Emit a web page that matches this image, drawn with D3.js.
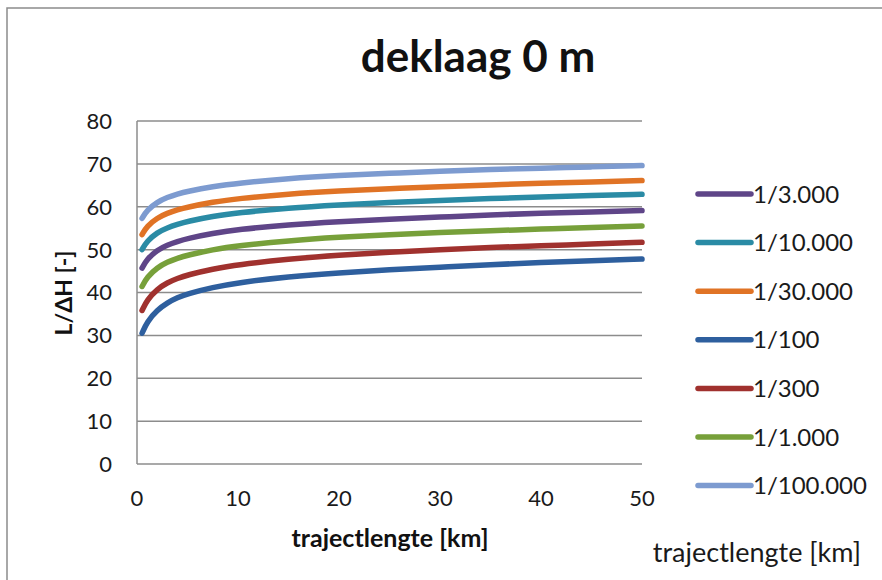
<!DOCTYPE html>
<html>
<head>
<meta charset="utf-8">
<script src="https://cdn.jsdelivr.net/npm/d3@7"></script>
<style>
  body { margin: 0; background: #fff; }
  svg { display: block; font-family: Lato, "Open Sans", sans-serif; }
</style>
</head>
<body>
<svg id="chart" width="882" height="580"></svg>
<script>
// trajectlengte in km
const xValues = [0.5, 1, 2, 3, 4, 5, 7.5, 10, 15, 20, 25, 30, 35, 40, 45, 50];

// L/dH per series
const s100 = [30.5, 33.2, 35.9, 37.6, 38.8, 39.7, 41.2, 42.3, 43.7, 44.6, 45.3, 45.9, 46.5, 47.0, 47.4, 47.8];
const s300 = [35.8, 38.3, 40.8, 42.3, 43.3, 44.1, 45.5, 46.5, 47.8, 48.7, 49.4, 50.0, 50.5, 50.9, 51.3, 51.7];
const s1000 = [41.4, 43.6, 45.8, 47.1, 48.0, 48.7, 50.0, 50.9, 52.1, 52.9, 53.5, 54.0, 54.4, 54.8, 55.2, 55.5];
const s3000 = [45.7, 47.8, 49.9, 51.1, 51.9, 52.6, 53.8, 54.7, 55.8, 56.5, 57.1, 57.6, 58.1, 58.5, 58.8, 59.1];
const s10000 = [50.0, 52.0, 54.0, 55.1, 55.9, 56.6, 57.8, 58.6, 59.7, 60.4, 61.0, 61.5, 61.9, 62.3, 62.6, 62.9];
const s30000 = [53.5, 55.5, 57.4, 58.5, 59.3, 59.9, 61.1, 61.9, 63.0, 63.7, 64.2, 64.7, 65.1, 65.5, 65.8, 66.1];
const s100000 = [57.3, 59.2, 61.1, 62.2, 63.0, 63.6, 64.7, 65.5, 66.6, 67.3, 67.8, 68.3, 68.7, 69.0, 69.3, 69.6];

// legend order as in the picture
const seriesNames = ['1/3.000', '1/10.000', '1/30.000', '1/100', '1/300', '1/1.000', '1/100.000'];
const seriesValues = [s3000, s10000, s30000, s100, s300, s1000, s100000];
const seriesColors = ['#5f4588', '#2a8ba5', '#e07325', '#2e5f9e', '#a0312e', '#77a03a', '#7d9bd0'];

const xTicks = [0, 10, 20, 30, 40, 50];
const yTicks = [0, 10, 20, 30, 40, 50, 60, 70, 80];

const svg = d3.select('#chart');

// outer frame (only top and left visible)
svg.append('path')
    .attr('d', 'M7,580 V8 H882')
    .attr('fill', 'none')
    .attr('stroke', '#8c8c8c')
    .attr('stroke-width', 1.5);

// plot area
const plotLeft = 137, plotRight = 642, plotTop = 121, plotBottom = 464;

const xScale = d3.scaleLinear().domain([0, 50]).range([plotLeft, plotRight]);
const yScale = d3.scaleLinear().domain([0, 80]).range([plotBottom, plotTop]);

// gridlines
svg.append('g')
    .selectAll('line')
    .data(yTicks)
    .enter()
    .append('line')
    .attr('x1', plotLeft)
    .attr('x2', plotRight)
    .attr('y1', d => yScale(d))
    .attr('y2', d => yScale(d))
    .attr('stroke', '#8c8c8c')
    .attr('stroke-width', 1.5);

// left axis line
svg.append('line')
    .attr('x1', plotLeft).attr('x2', plotLeft)
    .attr('y1', plotTop).attr('y2', plotBottom)
    .attr('stroke', '#8c8c8c')
    .attr('stroke-width', 1.5);

// y tick labels
svg.append('g')
    .selectAll('text')
    .data(yTicks)
    .enter()
    .append('text')
    .attr('x', 112)
    .attr('y', d => yScale(d))
    .attr('dy', '0.36em')
    .attr('text-anchor', 'end')
    .attr('font-size', 22)
    .attr('fill', '#1a1a1a')
    .text(d => d);

// x tick labels
svg.append('g')
    .selectAll('text')
    .data(xTicks)
    .enter()
    .append('text')
    .attr('x', d => xScale(d))
    .attr('y', 506)
    .attr('text-anchor', 'middle')
    .attr('font-size', 22)
    .attr('fill', '#1a1a1a')
    .text(d => d);

// series lines
const line = d3.line()
    .x((d, i) => xScale(xValues[i]))
    .y(d => yScale(d))
    .curve(d3.curveBasis);

svg.append('g')
    .selectAll('path')
    .data(seriesValues)
    .enter()
    .append('path')
    .attr('d', d => line(d))
    .attr('fill', 'none')
    .attr('stroke', (d, i) => seriesColors[i])
    .attr('stroke-width', 5.5)
    .attr('stroke-linecap', 'round');

// title
svg.append('text')
    .attr('x', 478)
    .attr('y', 72)
    .attr('text-anchor', 'middle')
    .attr('font-size', 44)
    .attr('font-weight', 'bold')
    .attr('fill', '#111')
    .text('deklaag 0 m');

// axis titles
svg.append('text')
    .attr('transform', 'translate(72,293) rotate(-90)')
    .attr('text-anchor', 'middle')
    .attr('font-size', 23)
    .attr('font-weight', 'bold')
    .attr('fill', '#111')
    .text('L/ΔH [-]');

svg.append('text')
    .attr('x', 390)
    .attr('y', 547)
    .attr('text-anchor', 'middle')
    .attr('font-size', 25)
    .attr('font-weight', 'bold')
    .attr('fill', '#111')
    .text('trajectlengte [km]');

svg.append('text')
    .attr('x', 861)
    .attr('y', 562)
    .attr('text-anchor', 'end')
    .attr('font-size', 27)
    .attr('fill', '#1a1a1a')
    .text('trajectlengte [km]');

// legend
const legend = svg.append('g')
    .selectAll('g')
    .data(seriesNames)
    .enter()
    .append('g')
    .attr('transform', (d, i) => 'translate(0,' + (194 + i * 48.6) + ')');

legend.append('line')
    .attr('x1', 698)
    .attr('x2', 751)
    .attr('stroke', (d, i) => seriesColors[i])
    .attr('stroke-width', 5.5)
    .attr('stroke-linecap', 'round');

legend.append('text')
    .attr('x', 753)
    .attr('dy', '0.36em')
    .attr('font-size', 24)
    .attr('fill', '#1a1a1a')
    .text(d => d);
</script>
</body>
</html>
